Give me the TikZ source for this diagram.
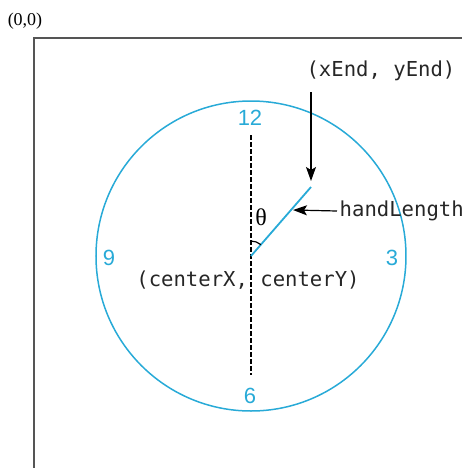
\documentclass[tikz,border=0pt]{standalone}
\usepackage{fontspec}
\setmainfont{Liberation Serif}
\newfontfamily\monofont{DejaVu Sans Mono}
\newfontfamily\dialfont{Liberation Sans}
\usetikzlibrary{arrows.meta}
\definecolor{dialblue}{RGB}{40,170,215}
\definecolor{framegray}{RGB}{85,85,85}

\begin{document}
\begin{tikzpicture}[x=0.5pt,y=-0.5pt,line width=0.7pt,
	codelabel/.style={font=\monofont\fontsize{10.3}{12}\selectfont,text=black!85,inner sep=1pt},
	dialnum/.style={text=dialblue,font=\dialfont\fontsize{11}{12}\selectfont,inner sep=0pt},
	pointer/.style={-{Stealth[length=7pt,width=5pt,inset=1.5pt]},line width=0.6pt}]
	
	\useasboundingbox (0,0) rectangle (462,468);
	
	% window frame
	\draw[framegray,line width=1pt] (34,468) -- (34,38) -- (462,38);
	\node[font=\fontsize{9}{10}\selectfont,inner sep=0pt] (origin) at (25,21) {(0,0)};
	
	% clock face
	\coordinate (center) at (251,256);
	\draw[dialblue,line width=0.75pt] (center) circle (155);
	
	\node[dialnum] (twelve) at (250,118) {12};
	\node[dialnum] (three) at (392,258) {3};
	\node[dialnum] (six) at (250,396) {6};
	\node[dialnum] (nine) at (109,258) {9};
	
	\coordinate (dashtop) at (251,135);
	\coordinate (dashbot) at (251,375);
	\draw[dash pattern=on 2.5pt off 1pt,line width=0.6pt] (dashtop) -- (dashbot);
	
	% hand and angle
	\coordinate (handend) at (311,187);
	\draw[dialblue,line width=0.9pt] (center) -- (handend);
	\draw[line width=0.6pt] (center) ++(-90:15) arc[start angle=-90, end angle=-49, radius=15];
	\node[font=\fontsize{12}{12}\selectfont,inner sep=0pt] (theta) at (261,217) {θ};
	
	% labels
	\node[codelabel] (endlabel) at (381,71) {(xEnd, yEnd)};
	\coordinate (endtop) at (311,92);
	\draw[pointer,shorten >=3pt] (endtop) -- (handend);
	
	\node[codelabel,anchor=west] (handlen) at (337,211) {handLength};
	\coordinate (handtip) at (293,210);
	\draw[pointer] (handlen.west) -- (handtip);
	
	\node[codelabel] (centerlabel) at (248,280) {(centerX, centerY)};
	
\end{tikzpicture}
\end{document}
